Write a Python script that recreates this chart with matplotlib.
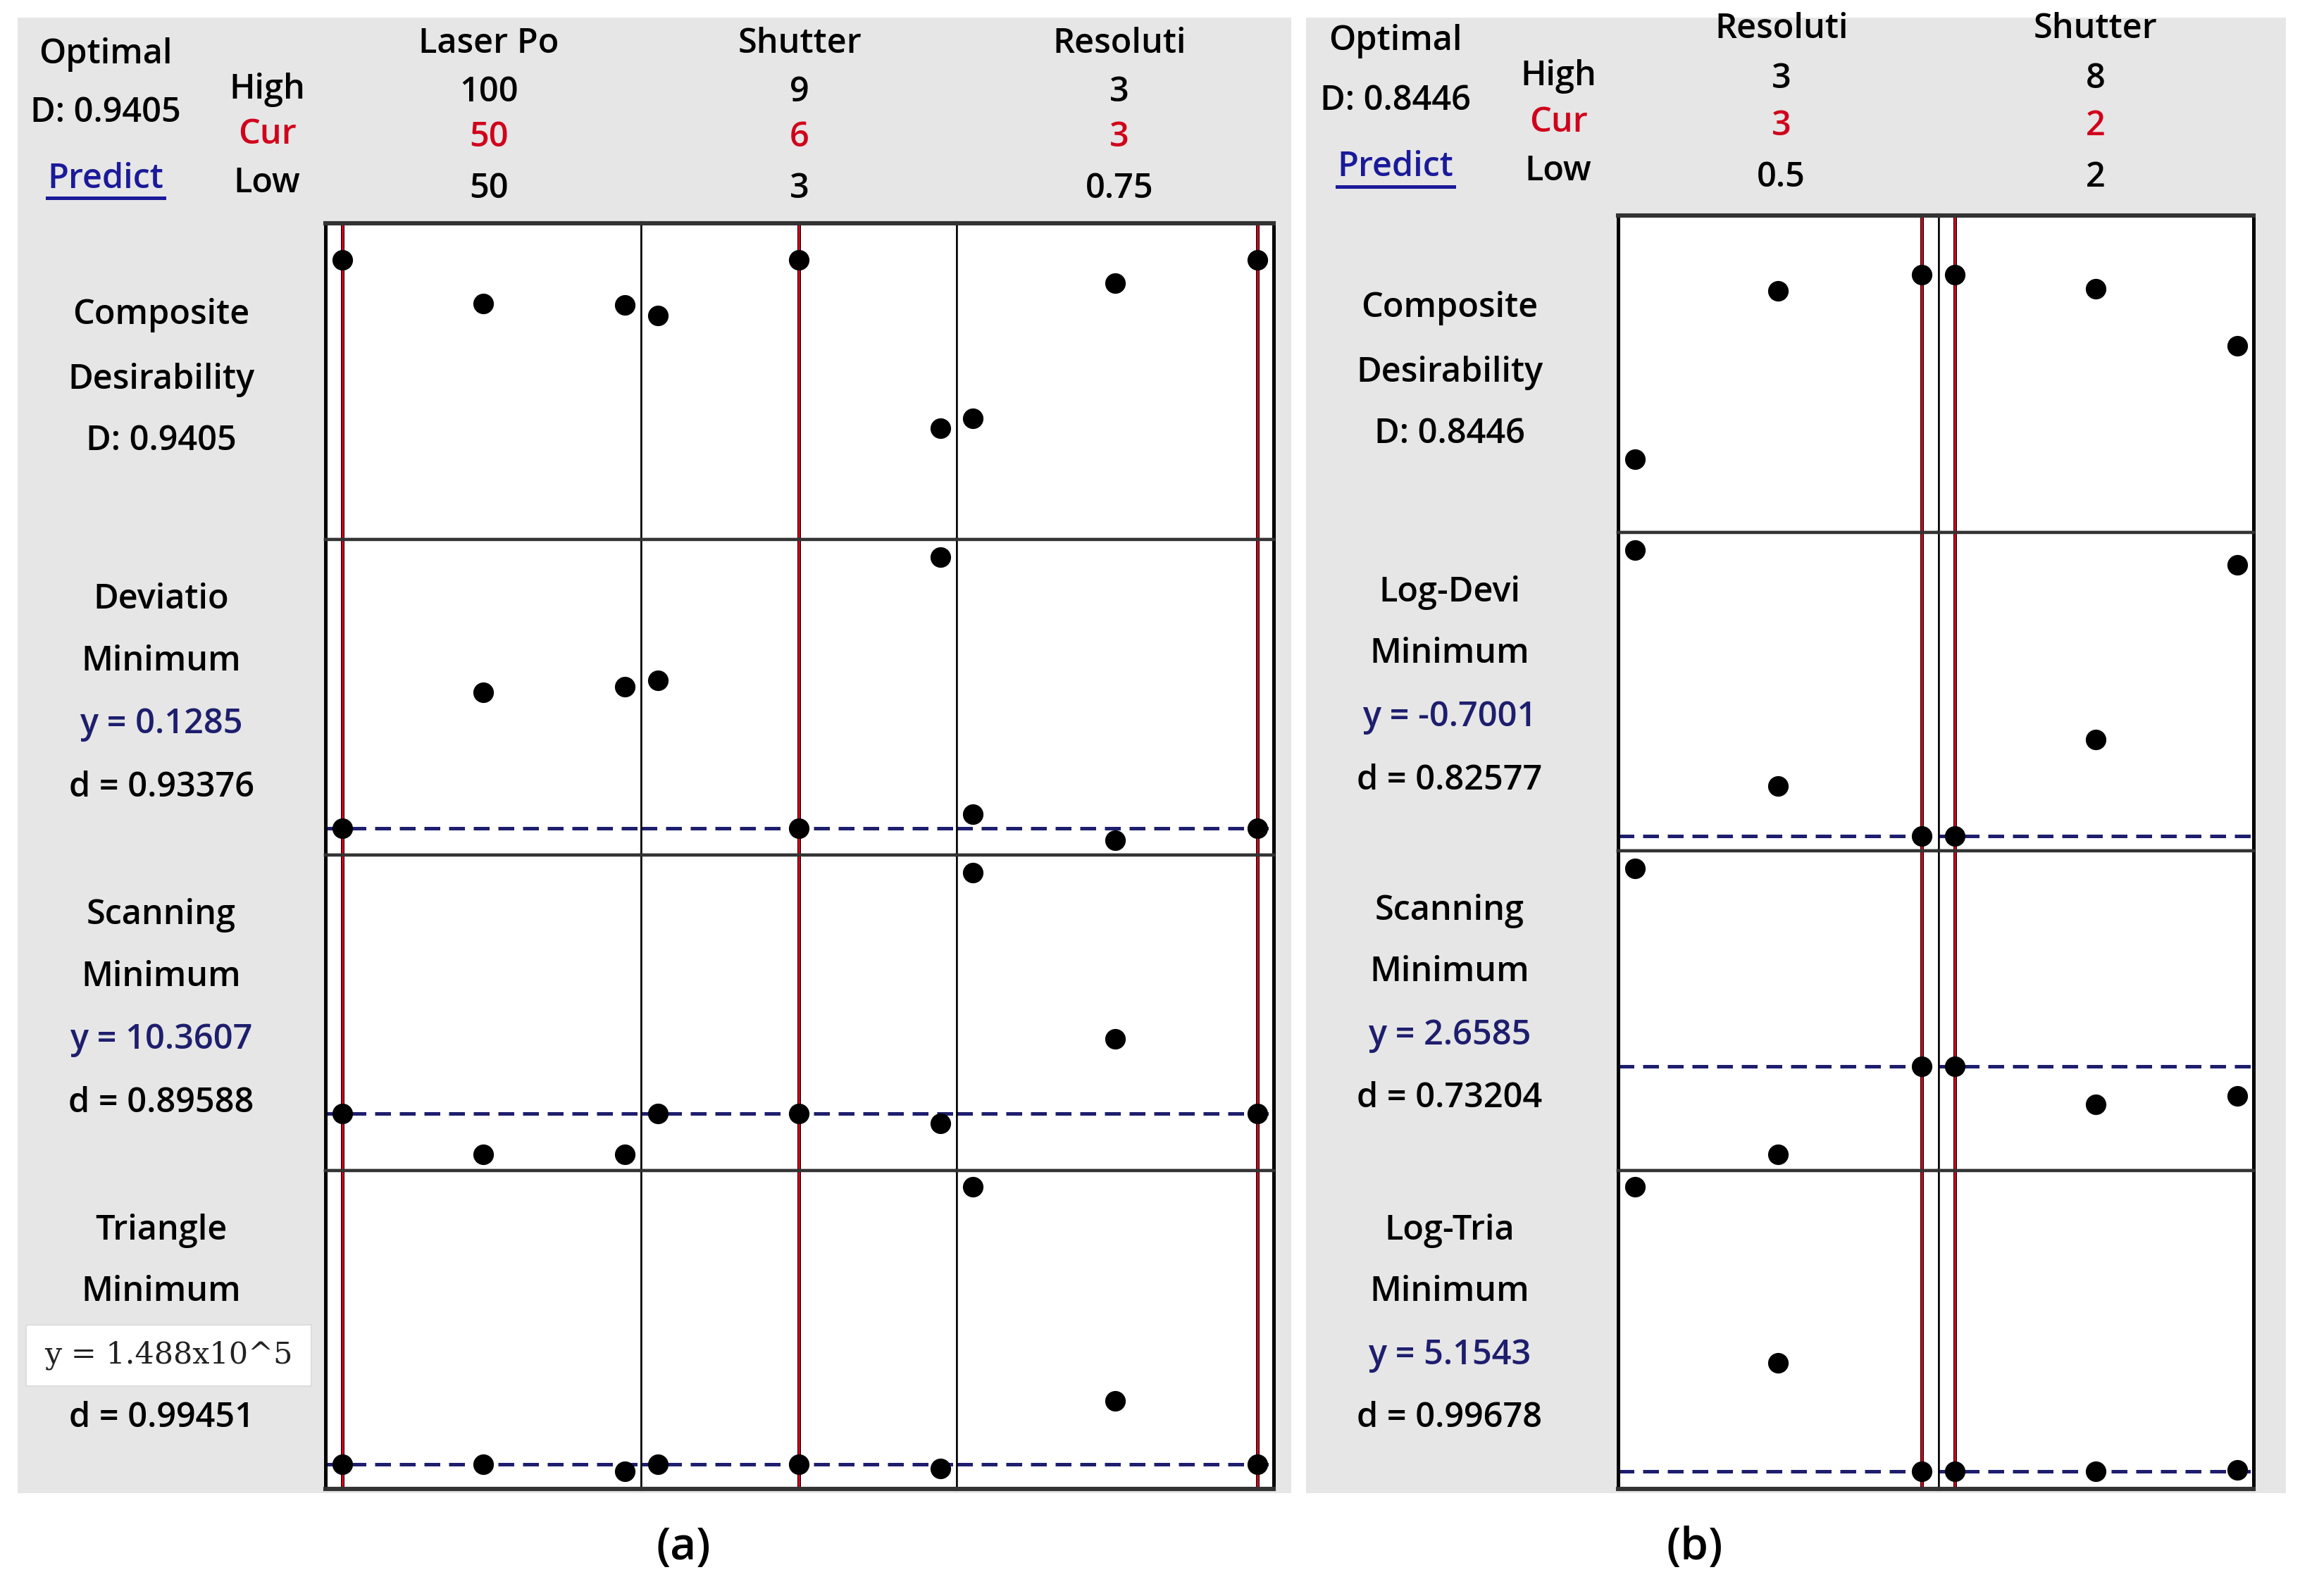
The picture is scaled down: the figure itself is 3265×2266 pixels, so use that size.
import matplotlib
matplotlib.use('Agg')
import matplotlib.pyplot as plt
from matplotlib.patches import Rectangle

plt.rcParams['font.family'] = ['Open Sans', 'DejaVu Sans']
plt.rcParams['font.weight'] = 'semibold'

W, H = 1568.0, 1088.0   # layout grid (scaled to 3266x2266 on save)

# ---------------- panel (a) data ----------------
a_factors = ['Laser Po', 'Shutter', 'Resoluti']
a_high = ['100', '9', '3']
a_cur = ['50', '6', '3']
a_low = ['50', '3', '0.75']
a_xvals = [[50, 75, 100], [3, 6, 9], [0.75, 1.875, 3]]
a_curx = [50, 6, 3]
a_ylims = [(0.486, 1.0), (0.09, 0.54), (9.82, 12.82), (1.41, 2.41)]
a_opt = [None, 0.1285, 10.3607, 1.488]
a_comp = [[0.9405, 0.869, 0.867], [0.850, 0.9405, 0.667], [0.683, 0.902, 0.9405]]
a_dev = [[0.1285, 0.3223, 0.3307], [0.339, 0.1285, 0.5149], [0.1486, 0.1109, 0.1285]]
a_scan = [[10.3607, 9.973, 9.973], [10.3607, 10.3607, 10.267], [12.652, 11.076, 10.3607]]
a_tri = [[1.488, 1.488, 1.465], [1.488, 1.488, 1.4745], [2.359, 1.686, 1.488]]
a_labels = [['Composite', 'Desirability', 'D: 0.9405'],
            ['Deviatio', 'Minimum', 'y = 0.1285', 'd = 0.93376'],
            ['Scanning', 'Minimum', 'y = 10.3607', 'd = 0.89588'],
            ['Triangle', 'Minimum', 'y = 1.488x10^5', 'd = 0.99451']]

# ---------------- panel (b) data ----------------
b_factors = ['Resoluti', 'Shutter']
b_high = ['3', '8']
b_cur = ['3', '2']
b_low = ['0.5', '2']
b_xvals = [[0.5, 1.75, 3], [2, 5, 8]]
b_curx = [3, 2]
b_ylims = [(0.356, 0.956), (-0.746, 0.254), (2.333, 3.333), (5.099, 6.099)]
b_opt = [None, -0.7001, 2.6585, 5.1543]
b_comp = [[0.495, 0.814, 0.8446], [0.8446, 0.817, 0.709]]
b_dev = [[0.199, -0.543, -0.7001], [-0.7001, -0.396, 0.153]]
b_scan = [[3.278, 2.383, 2.6585], [2.6585, 2.539, 2.567]]
b_tri = [[6.048, 5.495, 5.1543], [5.1543, 5.1543, 5.159]]
b_labels = [['Composite', 'Desirability', 'D: 0.8446'],
            ['Log-Devi', 'Minimum', 'y = -0.7001', 'd = 0.82577'],
            ['Scanning', 'Minimum', 'y = 2.6585', 'd = 0.73204'],
            ['Log-Tria', 'Minimum', 'y = 5.1543', 'd = 0.99678']]

RED = '#d0021b'
NAVY = '#1e1e6e'
FS = 17.5

fig = plt.figure(figsize=(16.33, 11.33), dpi=200)
bg = fig.add_axes([0, 0, 1, 1])
bg.set_xlim(0, W)
bg.set_ylim(H, 0)
bg.axis('off')
bg.add_patch(Rectangle((12, 12), 868, 1006, facecolor='#e6e6e6', edgecolor='none'))
bg.add_patch(Rectangle((890, 12), 668, 1006, facecolor='#e6e6e6', edgecolor='none'))


def add_ax(x0, x1, y0, y1):
    return fig.add_axes([x0 / W, 1 - y1 / H, (x1 - x0) / W, (y1 - y0) / H])


def draw_panel(cols, rows, xvals, curx, ylims, opt, series, labels, lab_x,
               head_x, factors, high, cur, low, top_txt):
    # header
    ox, oys, hx, hys, fys, dtxt = top_txt
    bg.text(ox, oys[0], 'Optimal', ha='center', va='center', fontsize=FS)
    bg.text(ox, oys[1], dtxt, ha='center', va='center', fontsize=FS)
    bg.text(ox, oys[2], 'Predict', ha='center', va='center', fontsize=FS,
            color='#1a1a9a')
    bg.plot([ox - 40, ox + 40], [oys[2] + 13, oys[2] + 13], color='#1a1a9a', lw=1.8)
    bg.text(hx, hys[0], 'High', ha='center', va='center', fontsize=FS)
    bg.text(hx, hys[1], 'Cur', ha='center', va='center', fontsize=FS, color=RED)
    bg.text(hx, hys[2], 'Low', ha='center', va='center', fontsize=FS)
    for i, f in enumerate(factors):
        bg.text(head_x[i], fys, f, ha='center', va='center', fontsize=FS)
        bg.text(head_x[i], hys[0] + 2, high[i], ha='center', va='center', fontsize=FS)
        bg.text(head_x[i], hys[1] + 2, cur[i], ha='center', va='center', fontsize=FS,
                color=RED)
        bg.text(head_x[i], hys[2] + 4, low[i], ha='center', va='center', fontsize=FS)

    nc = len(cols) - 1
    nr = len(rows) - 1
    for r in range(nr):
        for c in range(nc):
            ax = add_ax(cols[c], cols[c + 1], rows[r], rows[r + 1])
            xs = xvals[c]
            span = xs[-1] - xs[0]
            ax.set_xlim(xs[0] - 0.058 * span, xs[-1] + 0.058 * span)
            ax.set_ylim(*ylims[r])
            ax.set_xticks([])
            ax.set_yticks([])
            ax.set_facecolor('white')
            for s in ax.spines.values():
                s.set_linewidth(0.9)
                s.set_color('black')
            ax.spines['top'].set_linewidth(1.6 if r > 0 else 2.2)
            ax.spines['bottom'].set_linewidth(1.6 if r < nr - 1 else 2.2)
            ax.spines['top'].set_color('#333333')
            ax.spines['bottom'].set_color('#333333')
            if c == 0:
                ax.spines['left'].set_linewidth(1.8)
            if c == nc - 1:
                ax.spines['right'].set_linewidth(1.8)
            if opt[r] is not None:
                ax.axhline(opt[r], color=NAVY, lw=1.8, ls=(0, (4.5, 2.5)), zorder=2)
            ax.axvline(curx[c], color='black', lw=1.8, zorder=1)
            ax.axvline(curx[c], color=RED, lw=1.1, zorder=1.5)
            ax.plot(xs, series[r][c], 'o', color='black', markersize=9.5,
                    zorder=4, clip_on=False)

        # row labels
        top = rows[r]
        lab = labels[r]
        if len(lab) == 3:
            ys = [top + 63, top + 107, top + 149]
        else:
            ys = [top + 41, top + 83, top + 126, top + 169]
        for k, txt in enumerate(lab):
            col = NAVY if txt.startswith('y =') else 'black'
            if txt.startswith('y = 1.488'):
                bg.add_patch(Rectangle((18, ys[k] - 21), 194, 42, facecolor='white',
                                       edgecolor='#dddddd', lw=0.8, zorder=3))
                bg.text(115, ys[k], txt, ha='center', va='center', fontsize=15.5,
                        family=['DejaVu Serif'], weight='normal', color='#222222',
                        zorder=4)
            else:
                bg.text(lab_x, ys[k], txt, ha='center', va='center', fontsize=FS,
                        color=col)


draw_panel([222, 437, 652, 868], [152, 368, 583, 798, 1015], a_xvals, a_curx,
           a_ylims, a_opt, [a_comp, a_dev, a_scan, a_tri], a_labels, 110,
           [333, 545, 763], a_factors, a_high, a_cur, a_low,
           (72, [37, 77, 122], 182, [61, 92, 125], 30, 'D: 0.9405'))

draw_panel([1103, 1321, 1536], [147, 363, 580, 798, 1015], b_xvals, b_curx,
           b_ylims, b_opt, [b_comp, b_dev, b_scan, b_tri], b_labels, 988,
           [1214, 1428], b_factors, b_high, b_cur, b_low,
           (951, [28, 69, 114], 1062, [52, 84, 117], 20, 'D: 0.8446'))

bg.text(466, 1055, '(a)', ha='center', va='center', fontsize=23)
bg.text(1155, 1055, '(b)', ha='center', va='center', fontsize=23)

fig.savefig('out.png', dpi=200, facecolor='white')
